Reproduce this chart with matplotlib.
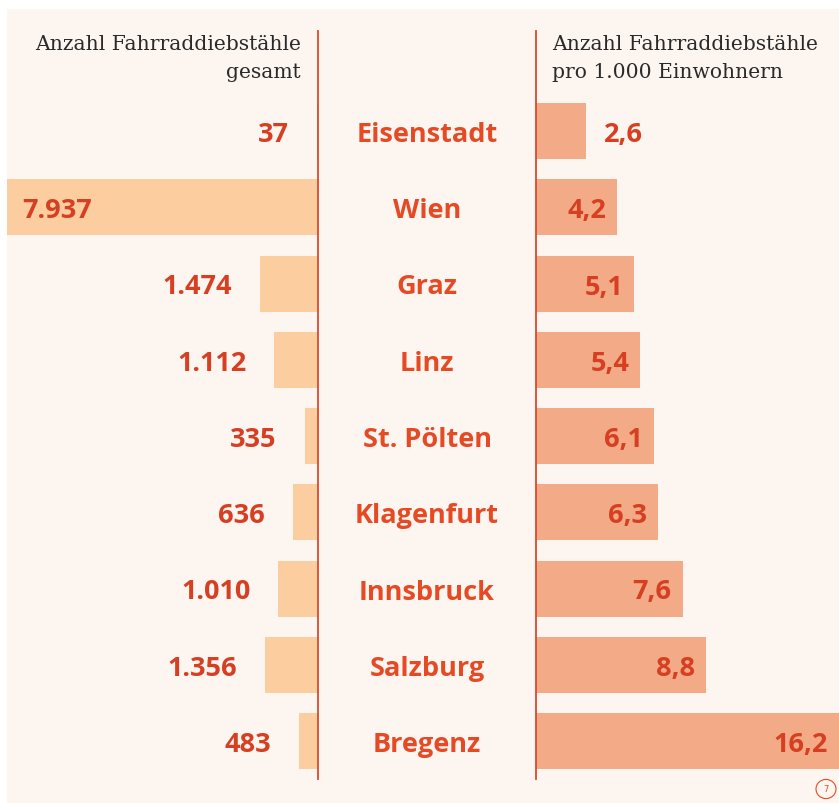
import matplotlib.pyplot as plt
from matplotlib.patches import Rectangle, Circle

# ---------------- data ----------------
cities = ["Eisenstadt", "Wien", "Graz", "Linz", "St. Pölten",
          "Klagenfurt", "Innsbruck", "Salzburg", "Bregenz"]
total = [37, 7937, 1474, 1112, 335, 636, 1010, 1356, 483]
total_labels = ["37", "7.937", "1.474", "1.112", "335", "636", "1.010", "1.356", "483"]
per1000 = [2.6, 4.2, 5.1, 5.4, 6.1, 6.3, 7.6, 8.8, 16.2]
per1000_labels = ["2,6", "4,2", "5,1", "5,4", "6,1", "6,3", "7,6", "8,8", "16,2"]

# ---------------- colours ----------------
bg = '#fdf5f0'
left_bar = '#fbcd9f'
right_bar = '#f3ab87'
val_red = '#d63f22'
city_red = '#e64a24'
line_red = '#d94a2c'
head_col = '#2a2a2a'
bold_font = 'Open Sans'
fs = 19.5
base_off = -10  # pixels from bar centre down to the text baseline

W, H = 839, 804
fig = plt.figure(figsize=(W / 100, H / 100), dpi=100)
fig.patch.set_facecolor('white')

# cream panel
fig.patches.append(Rectangle((7 / W, 0), 1 - 7 / W, 1 - 10 / H, transform=fig.transFigure,
                             facecolor=bg, edgecolor='none', zorder=-5))

def px_box(x0, x1, y0, y1):
    # pixel box (y from top) -> figure fraction rect
    return [x0 / W, 1 - y1 / H, (x1 - x0) / W, (y1 - y0) / H]

ytop = -100 / 76.25
ybot = 8 + 38 / 76.25
bh = 56 / 76.25
rows = list(range(len(cities)))

# left axes: total thefts, bars growing leftwards
axL = fig.add_axes(px_box(7, 318, 32, 780))
axL.set_facecolor('none')
axL.barh(rows, total, height=bh, color=left_bar, zorder=1)
axL.set_xlim(7937, 0)
axL.set_ylim(ybot, ytop)
for i, (v, lab) in enumerate(zip(total, total_labels)):
    if v > 4000:
        axL.annotate(lab, (v, i), xytext=(15, base_off), textcoords='offset pixels',
                     ha='left', va='baseline', color=val_red, fontsize=fs,
                     fontweight='bold', family=bold_font)
    else:
        axL.annotate(lab, (v, i), xytext=(-28, base_off), textcoords='offset pixels',
                     ha='right', va='baseline', color=val_red, fontsize=fs,
                     fontweight='bold', family=bold_font)

# right axes: per 1000 inhabitants
axR = fig.add_axes(px_box(536, 839, 32, 780))
axR.set_facecolor('none')
axR.barh(rows, per1000, height=bh, color=right_bar, zorder=1)
axR.set_xlim(0, 303 / 19.3)
axR.set_ylim(ybot, ytop)
for i, (v, lab) in enumerate(zip(per1000, per1000_labels)):
    if v < 3:
        axR.annotate(lab, (v, i), xytext=(18, base_off), textcoords='offset pixels',
                     ha='left', va='baseline', color=val_red, fontsize=fs,
                     fontweight='bold', family=bold_font)
    else:
        x = min(v, axR.get_xlim()[1])
        axR.annotate(lab, (x, i), xytext=(-11, base_off), textcoords='offset pixels',
                     ha='right', va='baseline', color=val_red, fontsize=fs,
                     fontweight='bold', family=bold_font)

for ax in (axL, axR):
    ax.set_xticks([])
    ax.set_yticks([])
    for s in ax.spines.values():
        s.set_visible(False)
axL.spines['right'].set_visible(True)
axL.spines['right'].set_color(line_red)
axL.spines['right'].set_linewidth(1.3)
axR.spines['left'].set_visible(True)
axR.spines['left'].set_color(line_red)
axR.spines['left'].set_linewidth(1.3)

# city names in the middle column
for i, c in enumerate(cities):
    y = 132 + i * 76.25 - base_off
    fig.text(427 / W, 1 - y / H, c, ha='center', va='baseline', color=city_red,
             fontsize=fs, fontweight='bold', family=bold_font)

# headers
head_kw = dict(va='center', color=head_col, fontsize=14.6, family='DejaVu Serif')
fig.text(301 / W, 1 - 45 / H, "Anzahl Fahrraddiebstähle", ha='right', **head_kw)
fig.text(301 / W, 1 - 73 / H, "gesamt", ha='right', **head_kw)
fig.text(552 / W, 1 - 45 / H, "Anzahl Fahrraddiebstähle", ha='left', **head_kw)
fig.text(552 / W, 1 - 73 / H, "pro 1.000 Einwohnern", ha='left', **head_kw)

# page number
fig.patches.append(Circle((826 / W, 1 - 790 / H), 10 / W, transform=fig.transFigure,
                          facecolor='none', edgecolor=city_red, linewidth=0.8))
fig.text(826 / W, 1 - 790 / H, "7", ha='center', va='center', color=city_red, fontsize=6)

fig.savefig('out.png', dpi=100, facecolor=fig.get_facecolor())
